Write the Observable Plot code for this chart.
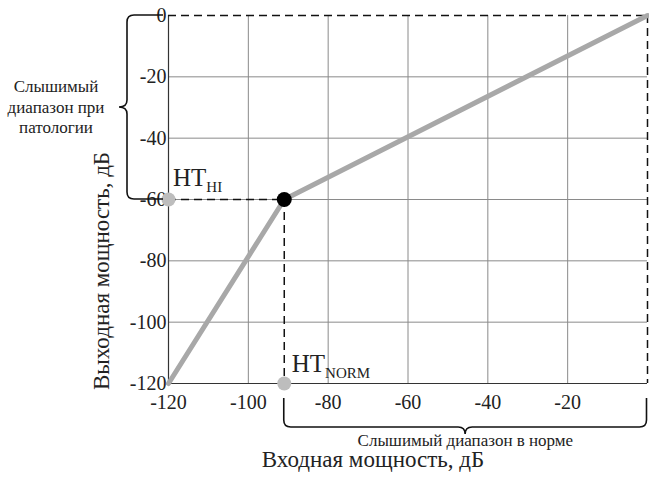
<!DOCTYPE html>
<html><head><meta charset="utf-8">
<script src="https://cdn.jsdelivr.net/npm/d3@7"></script>
<script src="https://cdn.jsdelivr.net/npm/@observablehq/plot@0.6"></script>
<style>
body{margin:0;background:#fff}
svg text, svg tspan{font-family:"Liberation Serif" !important;}
</style>
</head><body><div id="chart"></div>
<script>
const inputDb = [-120, -91, 0];
const outputDb = [-120, -60, 0];
const xTicks = [-120, -100, -80, -60, -40, -20];
const yTicks = [0, -20, -40, -60, -80, -100, -120];
const xGrid = [-100, -80, -60, -40, -20];
const yGrid = [-20, -40, -60, -80, -100];
const kneeX = -91, kneeY = -60, minDb = -120, maxDb = 0;
const xTitle = "Входная мощность, дБ";
const yTitle = "Выходная мощность, дБ";
const leftNote = ["Слышимый", "диапазон при", "патологии"];
const bottomNote = "Слышимый диапазон в норме";

const data = inputDb.map((x, i) => ({x, y: outputDb[i]}));
const dash = "8,5";

const plot = Plot.plot({
  width: 649, height: 477,
  marginLeft: 168, marginRight: 2, marginTop: 15, marginBottom: 94,
  style: "font-family:'Liberation Serif';font-size:20px;background:white;color:#222;",
  x: {domain: [minDb, maxDb]},
  y: {domain: [minDb, maxDb]},
  marks: [
    Plot.gridX(xGrid, {stroke: "#8a8a8a", strokeOpacity: 1}),
    Plot.gridY(yGrid, {stroke: "#8a8a8a", strokeOpacity: 1}),
    Plot.axisX(xTicks, {tickSize: 0, tickPadding: 11, label: null, tickFormat: d => String(d), fontSize: 20}),
    Plot.axisY(yTicks, {tickSize: 0, tickPadding: 2, label: null, tickFormat: d => String(d), fontSize: 20}),
    Plot.ruleX([minDb], {stroke: "#333", strokeWidth: 1.2}),
    Plot.ruleY([minDb], {stroke: "#333", strokeWidth: 1.2}),
    Plot.ruleY([maxDb], {stroke: "#111", strokeWidth: 1.5, strokeDasharray: dash}),
    Plot.ruleX([maxDb], {stroke: "#111", strokeWidth: 1.5, strokeDasharray: dash}),
    Plot.ruleY([kneeY], {x1: minDb, x2: kneeX, stroke: "#111", strokeWidth: 1.5, strokeDasharray: dash}),
    Plot.ruleX([kneeX], {y1: kneeY, y2: minDb, stroke: "#111", strokeWidth: 1.5, strokeDasharray: dash}),
    Plot.line(data, {x: "x", y: "y", stroke: "#a8a8a8", strokeWidth: 5}),
    Plot.dot([{x: minDb, y: kneeY}, {x: kneeX, y: minDb}], {x: "x", y: "y", r: 7, fill: "#bdbdbd", stroke: "none"}),
    Plot.dot([{x: kneeX, y: kneeY}], {x: "x", y: "y", r: 7.5, fill: "#000", stroke: "none"})
  ]
});
document.getElementById("chart").appendChild(plot);
d3.select(plot).selectAll("text").attr("font-family", "Liberation Serif");

const sx = plot.scale("x").apply, sy = plot.scale("y").apply;
const svg = d3.select(plot);
const g = svg.append("g").attr("fill", "#222").attr("text-anchor", "start").attr("font-family", "Liberation Serif");

// HT labels
function ht(x, y, sub) {
  const t = g.append("text").attr("x", x).attr("y", y).attr("font-size", 25).attr("text-anchor", "start");
  t.append("tspan").text("HT");
  t.append("tspan").attr("font-size", 15).attr("dy", 6).text(sub);
}
ht(sx(minDb) + 5, sy(kneeY) - 13, "HI");
ht(sx(kneeX) + 8, sy(minDb) - 11, "NORM");

// axis titles
g.append("text").attr("x", 373).attr("y", 467).attr("text-anchor", "middle").attr("font-size", 23).text(xTitle);
g.append("text").attr("transform", "translate(109,271) rotate(-90)").attr("text-anchor", "middle").attr("font-size", 23).text(yTitle);

// notes
leftNote.forEach((s, i) => g.append("text").attr("x", 56).attr("y", 92 + i * 20.5).attr("text-anchor", "middle").attr("font-size", 17).text(s));
g.append("text").attr("x", (sx(kneeX) + sx(maxDb)) / 2).attr("y", 446).attr("text-anchor", "middle").attr("font-size", 17).text(bottomNote);

// braces
const r = 7;
const yTop = sy(maxDb), yBot = sy(kneeY), ym = (yTop + yBot) / 2;
const xArm = 163, xSp = 127, xTip = 119;
const leftBrace = `M${xArm},${yTop} L${xSp + r},${yTop} Q${xSp},${yTop} ${xSp},${yTop + r} L${xSp},${ym - 7} Q${xSp},${ym} ${xTip},${ym} Q${xSp},${ym} ${xSp},${ym + 7} L${xSp},${yBot - r} Q${xSp},${yBot} ${xSp + r},${yBot} L${xArm},${yBot}`;
const xl = sx(kneeX), xr = sx(maxDb) - 0.5, xm = (xl + xr) / 2;
const yArm = 398, ySp = 427, yTipB = 434;
const bottomBrace = `M${xl},${yArm} L${xl},${ySp - r} Q${xl},${ySp} ${xl + r},${ySp} L${xm - 7},${ySp} Q${xm},${ySp} ${xm},${yTipB} Q${xm},${ySp} ${xm + 7},${ySp} L${xr - r},${ySp} Q${xr},${ySp} ${xr},${ySp - r} L${xr},${yArm}`;
[leftBrace, bottomBrace].forEach(d => g.append("path").attr("d", d).attr("fill", "none").attr("stroke", "#111").attr("stroke-width", 1.6));
</script></body></html>
